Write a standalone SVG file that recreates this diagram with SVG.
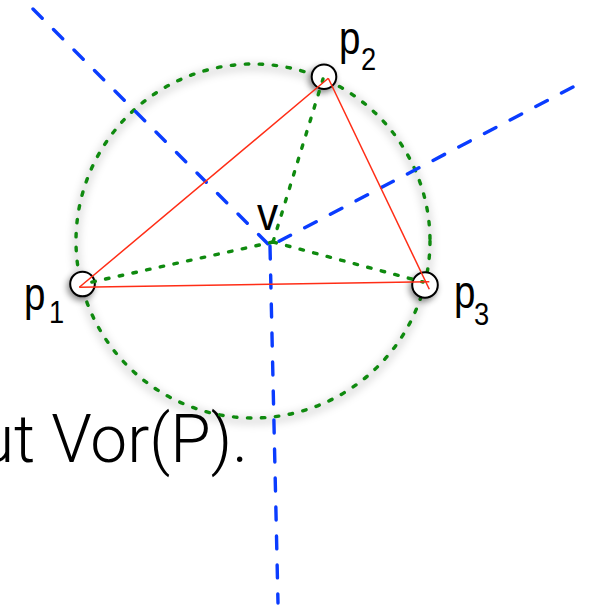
<svg xmlns="http://www.w3.org/2000/svg" width="589" height="611" viewBox="0 0 589 611">
  <defs>
    <style>
      .circ { fill: none; stroke: #0f8a0f; stroke-width: 3.4; stroke-dasharray: 3.5 10.5; stroke-linecap: round; }
      .spoke { fill: none; stroke: #0f8a0f; stroke-width: 3.4; stroke-dasharray: 3.5 10.5; stroke-linecap: round; }
      .vor { fill: none; stroke: #0a3cff; stroke-width: 3.4; stroke-dasharray: 13 16; stroke-linecap: round; }
      .tri { fill: none; stroke: #ff2d16; stroke-width: 1.5; }
      .site { fill: #ffffff; stroke: #000000; stroke-width: 2; }
      .lbl { font-family: "Liberation Sans", Arial, sans-serif; font-size: 47px; fill: #000000; }
      .sub { font-family: "Liberation Sans", Arial, sans-serif; font-size: 31px; fill: #000000; }
      .main { font-family: Roboto, "Liberation Sans", sans-serif; font-weight: 300; font-size: 66px; fill: #000000; }
    </style>
    <filter id="blur" x="-20%" y="-20%" width="140%" height="140%">
      <feGaussianBlur stdDeviation="4"/>
    </filter>
    <filter id="nodeShadow" x="-60%" y="-60%" width="220%" height="220%">
      <feDropShadow dx="-2" dy="3" stdDeviation="3" flood-color="#000000" flood-opacity="0.45"/>
    </filter>
  </defs>

  <text class="main" x="-22" y="462" textLength="270" lengthAdjust="spacingAndGlyphs">ut Vor(P).</text>

  <g id="circumcircle">
    <circle cx="253" cy="244" r="177" fill="none" stroke="#000000" stroke-opacity="0.18" stroke-width="5" filter="url(#blur)"/>
    <circle class="circ" cx="253" cy="241" r="177"/>
  </g>

  <g id="connectors">
    <line class="vor" x1="33" y1="9" x2="270" y2="246"/>
    <line class="vor" x1="573" y1="87" x2="270" y2="246"/>
    <line class="vor" x1="270" y1="246" x2="278" y2="603"/>
  </g>

  <g id="site-p1">
    <circle class="site" cx="82.5" cy="284" r="12.3" filter="url(#nodeShadow)"/>
    <text class="lbl" transform="translate(24,310) scale(0.82,1)">p</text>
    <text class="sub" transform="translate(49,323) scale(0.88,1)">1</text>
  </g>
  <g id="site-p2">
    <circle class="site" cx="324" cy="76.7" r="12.3" filter="url(#nodeShadow)"/>
    <text class="lbl" transform="translate(339,54) scale(0.82,1)">p</text>
    <text class="sub" transform="translate(361,70) scale(0.88,1)">2</text>
  </g>
  <g id="site-p3">
    <circle class="site" cx="425" cy="285" r="12.8" filter="url(#nodeShadow)"/>
    <text class="lbl" transform="translate(454,308) scale(0.82,1)">p</text>
    <text class="sub" transform="translate(474,325) scale(0.88,1)">3</text>
  </g>

  <g id="spokes">
    <line class="spoke" x1="273" y1="242" x2="83" y2="284"/>
    <line class="spoke" x1="273" y1="242" x2="323" y2="79"/>
    <line class="spoke" x1="273" y1="242" x2="423" y2="282"/>
  </g>

  <g id="triangle">
    <line class="tri" x1="79.3" y1="287.3" x2="328.3" y2="78.3"/>
    <line class="tri" x1="328.3" y1="78.3" x2="429.3" y2="289.3"/>
    <line class="tri" x1="79.3" y1="287.3" x2="429.3" y2="281.7"/>
  </g>

  <g id="vertex-v">
    <text class="lbl" transform="translate(257,230) scale(0.9,1)">v</text>
  </g>
</svg>
